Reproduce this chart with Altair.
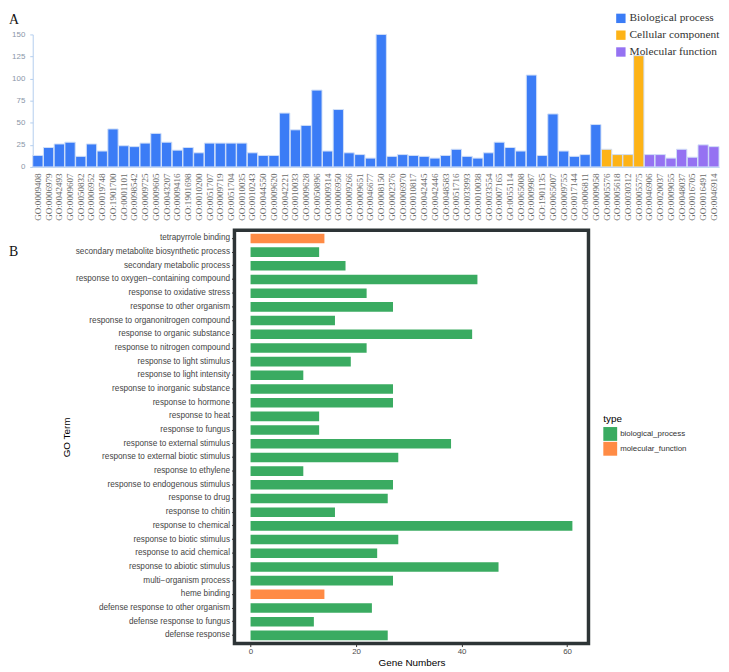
import altair as alt
import pandas as pd

# ---------------- Panel A data ----------------
go_ids = [
    "GO:0009408", "GO:0006979", "GO:0042493", "GO:0009607", "GO:0050832", "GO:0006952",
    "GO:0019748", "GO:1901700", "GO:0001101", "GO:0098542", "GO:0009725", "GO:0009605",
    "GO:0043207", "GO:0009416", "GO:1901698", "GO:0010200", "GO:0051707", "GO:0009719",
    "GO:0051704", "GO:0010035", "GO:0010243", "GO:0044550", "GO:0009620", "GO:0042221",
    "GO:0010033", "GO:0009628", "GO:0050896", "GO:0009314", "GO:0006950", "GO:0009266",
    "GO:0009651", "GO:0046677", "GO:0008150", "GO:0002376", "GO:0006970", "GO:0010817",
    "GO:0042445", "GO:0042446", "GO:0048583", "GO:0051716", "GO:0033993", "GO:0010038",
    "GO:0033554", "GO:0007165", "GO:0055114", "GO:0065008", "GO:0009987", "GO:1901135",
    "GO:0065007", "GO:0009755", "GO:0017144", "GO:0006811", "GO:0009058",
    "GO:0005576", "GO:0005618", "GO:0030312", "GO:0005575",
    "GO:0046906", "GO:0020037", "GO:0009055", "GO:0048037", "GO:0016705", "GO:0016491", "GO:0046914",
]
go_counts = [
    13, 22, 26, 28, 12, 26, 18, 43, 24, 23, 27, 38, 28, 19, 22, 16, 27, 27, 27, 27,
    16, 13, 13, 61, 42, 47, 87, 18, 65, 16, 14, 10, 150, 12, 14, 13, 12, 10, 13, 20,
    12, 10, 16, 28, 22, 18, 104, 13, 60, 18, 12, 14, 48,
    20, 14, 14, 126,
    14, 14, 10, 20, 11, 25, 23,
]
go_classes = ["Biological process"] * 53 + ["Cellular component"] * 4 + ["Molecular function"] * 7
class_names = ["Biological process", "Cellular component", "Molecular function"]
class_colors = ["#3b7cf6", "#fdb317", "#9572f2"]
y_ticks_a = [0, 25, 50, 75, 100, 125, 150]

# ---------------- Panel B data ----------------
terms = [
    "tetrapyrrole binding",
    "secondary metabolite biosynthetic process",
    "secondary metabolic process",
    "response to oxygen\u2212containing compound",
    "response to oxidative stress",
    "response to other organism",
    "response to organonitrogen compound",
    "response to organic substance",
    "response to nitrogen compound",
    "response to light stimulus",
    "response to light intensity",
    "response to inorganic substance",
    "response to hormone",
    "response to heat",
    "response to fungus",
    "response to external stimulus",
    "response to external biotic stimulus",
    "response to ethylene",
    "response to endogenous stimulus",
    "response to drug",
    "response to chitin",
    "response to chemical",
    "response to biotic stimulus",
    "response to acid chemical",
    "response to abiotic stimulus",
    "multi\u2212organism process",
    "heme binding",
    "defense response to other organism",
    "defense response to fungus",
    "defense response",
]
term_counts = [14, 13, 18, 43, 22, 27, 16, 42, 22, 19, 10, 27, 27, 13, 13, 38, 28, 10,
               27, 26, 16, 61, 28, 24, 47, 27, 14, 23, 12, 26]
term_types = ["molecular_function"] + ["biological_process"] * 25 + ["molecular_function"] + ["biological_process"] * 3
type_names = ["biological_process", "molecular_function"]
type_colors = ["#3aab61", "#ff8b45"]
x_ticks_b = [0, 20, 40, 60]

dfA = pd.DataFrame({"GO": go_ids, "count": go_counts, "class": go_classes})
dfB = pd.DataFrame({"term": terms, "count": term_counts, "type": term_types})
one = pd.DataFrame({"t": [1]})

# ---------------- Panel A chart ----------------
barsA = alt.Chart(dfA).mark_bar(stroke="#cfdff8", strokeWidth=1).encode(
    x=alt.X("GO:N", sort=go_ids,
            scale=alt.Scale(paddingInner=0.04, paddingOuter=0),
            axis=alt.Axis(title=None, labelAngle=270, labelFont="Liberation Serif",
                          labelFontSize=9.2, labelColor="#6a6a6a", ticks=False, tickSize=0,
                          labelPadding=6, domainColor="#b3cdee", labelOverlap=False)),
    y=alt.Y("count:Q", scale=alt.Scale(domain=[0, 150], nice=False),
            axis=alt.Axis(title=None, values=y_ticks_a, labelFontSize=8, labelColor="#8a96a8",
                          labelFont="Liberation Sans", domainColor="#b3cdee", tickColor="#b3cdee",
                          tickSize=3, grid=False, labelPadding=5)),
    color=alt.Color("class:N",
                    scale=alt.Scale(domain=class_names, range=class_colors),
                    legend=alt.Legend(title=None, orient="none", legendX=589, legendY=-22,
                                      symbolType="square", symbolSize=90, symbolStrokeWidth=0,
                                      labelFont="Liberation Serif", labelFontSize=11.5,
                                      labelColor="#333333", rowPadding=4, labelOffset=3)),
)
labelA = alt.Chart(one).mark_text(text="A", font="Liberation Serif", fontSize=14,
                                   align="left", baseline="top", color="#111111").encode(
    x=alt.value(-24), y=alt.value(-22))
chartA = alt.layer(barsA, labelA).properties(width=694, height=134)

# ---------------- Panel B chart ----------------
barsB = alt.Chart(dfB).mark_bar().encode(
    y=alt.Y("term:N", sort=terms,
            scale=alt.Scale(paddingInner=0.3, paddingOuter=0.25),
            axis=alt.Axis(title="GO Term", titleFont="Liberation Sans", titleFontSize=10,
                          titleFontWeight="normal", titleColor="#000000", titlePadding=3,
                          labelFont="Liberation Sans", labelFontSize=8.3, labelColor="#444444",
                          tickColor="#333333", tickSize=3, labelPadding=2, domain=False,
                          labelLimit=0, grid=False)),
    x=alt.X("count:Q", scale=alt.Scale(domain=[-3.05, 64.05], nice=False, zero=False),
            axis=alt.Axis(title="Gene Numbers", values=x_ticks_b, titleFont="Liberation Sans",
                          titleFontSize=10, titleFontWeight="normal", titleColor="#000000",
                          titlePadding=2, labelFont="Liberation Sans", labelFontSize=8,
                          labelColor="#4d4d4d", tickColor="#333333", tickSize=3,
                          labelPadding=1, domain=False, grid=False)),
    x2=alt.datum(0),
    color=alt.Color("type:N",
                    scale=alt.Scale(domain=type_names, range=type_colors),
                    legend=alt.Legend(title="type", orient="none", legendX=373, legendY=186,
                                      titleFont="Liberation Sans", titleFontSize=10,
                                      titleFontWeight="normal", titleColor="#000000",
                                      titlePadding=3, symbolType="square", symbolSize=196,
                                      symbolStrokeWidth=0, labelFont="Liberation Sans",
                                      labelFontSize=8, labelColor="#333333", rowPadding=1,
                                      labelOffset=3)),
).properties(width=358, height=418,
             view=alt.ViewBackground(stroke="#2d3436", strokeWidth=3.5))

spacerB = alt.Chart(one).mark_text(text="B", font="Liberation Serif", fontSize=14,
                                    align="left", baseline="middle", color="#111111").encode(
    x=alt.value(-24), y=alt.value(22.5)).properties(width=26, height=418)

rowB = alt.hconcat(spacerB, barsB, spacing=0).resolve_scale(color="independent")

chart = alt.vconcat(chartA, rowB, spacing=7).resolve_scale(
    color="independent", x="independent", y="independent"
).properties(padding=0).configure_view(stroke="transparent")

chart.save("out.html", embed_options={"renderer": "svg", "actions": False})
